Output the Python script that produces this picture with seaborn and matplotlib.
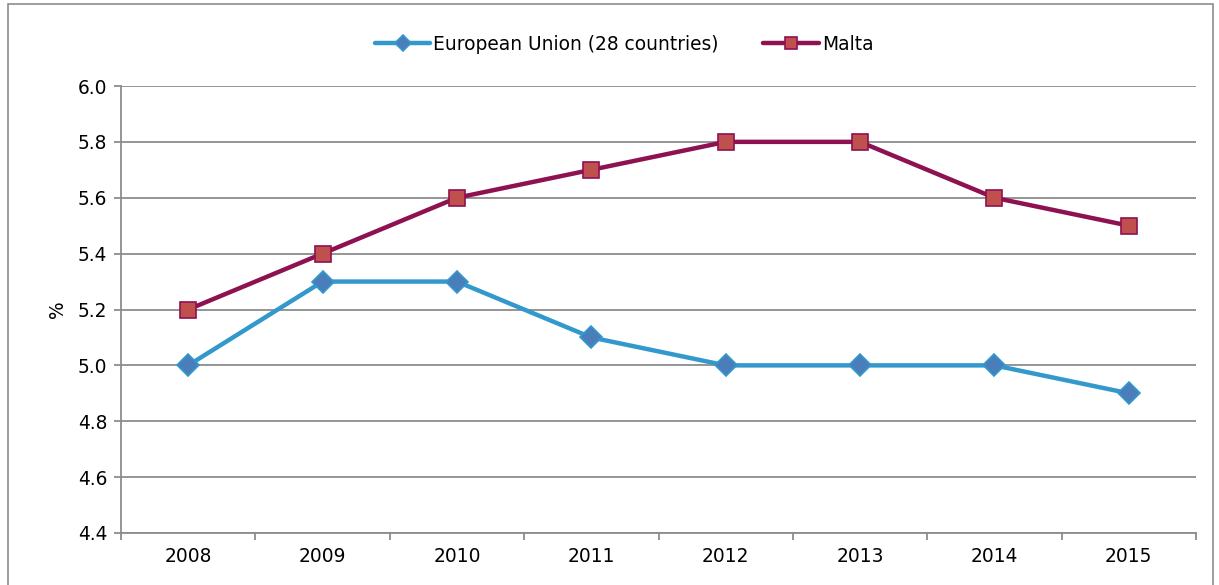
import matplotlib
matplotlib.use("Agg")
import matplotlib.pyplot as plt
from matplotlib.patches import Rectangle
import seaborn as sns
import pandas as pd

years = ["2008", "2009", "2010", "2011", "2012", "2013", "2014", "2015"]
eu_values = [5.0, 5.3, 5.3, 5.1, 5.0, 5.0, 5.0, 4.9]
malta_values = [5.2, 5.4, 5.6, 5.7, 5.8, 5.8, 5.6, 5.5]
series_names = ["European Union (28 countries)", "Malta"]
y_ticks = [4.4, 4.6, 4.8, 5.0, 5.2, 5.4, 5.6, 5.8, 6.0]

sns.set_theme(style="white")
plt.rcParams["font.family"] = ["DejaVu Sans"]
plt.rcParams["text.color"] = "black"
plt.rcParams["axes.labelcolor"] = "black"

df = pd.DataFrame({
    "pos": list(range(len(years))) * 2,
    "value": eu_values + malta_values,
    "series": [series_names[0]] * len(years) + [series_names[1]] * len(years),
})

fig = plt.figure(figsize=(12.19, 5.85), dpi=100)
ax = fig.add_axes([121 / 1219, 1 - 533 / 585, (1196 - 121) / 1219, (533 - 86) / 585])

grid_col = "#8c8c8c"
for y in y_ticks:
    ax.axhline(y, color=grid_col, lw=1.3, zorder=0)

styles = {
    series_names[0]: dict(color="#3399cc", marker="D", mfc="#4a7ebb", mec="#3399cc", ms=11),
    series_names[1]: dict(color="#8e1152", marker="s", mfc="#c0504d", mec="#8e1152", ms=12),
}
for name in series_names:
    st = styles[name]
    sub = df[df["series"] == name]
    sns.lineplot(data=sub, x="pos", y="value", ax=ax, color=st["color"], lw=3.2,
                 marker=st["marker"], markersize=st["ms"], markerfacecolor=st["mfc"],
                 markeredgecolor=st["mec"], markeredgewidth=1.2, label=name,
                 legend=False, zorder=3)

fs = 13.4
ax.set_xlim(-0.5, len(years) - 0.5)
ax.set_ylim(4.4, 6.0)
ax.set_yticks(y_ticks)
ax.set_yticklabels([f"{v:.1f}" for v in y_ticks])
ax.set_xticks(range(len(years)))
ax.set_xticklabels(years)
ax.set_xticks([i - 0.5 for i in range(len(years) + 1)], minor=True)
ax.tick_params(axis="x", which="major", length=0, labelsize=fs, pad=10, labelcolor="black")
ax.tick_params(axis="x", which="minor", length=5, width=1.3, color=grid_col, direction="out")
ax.tick_params(axis="y", which="major", length=5, width=1.3, color=grid_col, direction="out",
               labelsize=fs, pad=5, labelcolor="black")
ax.xaxis.set_ticks_position("bottom")
ax.yaxis.set_ticks_position("left")
for side in ["top", "right"]:
    ax.spines[side].set_visible(False)
for side in ["left", "bottom"]:
    ax.spines[side].set_color(grid_col)
    ax.spines[side].set_linewidth(1.3)
ax.set_xlabel("")
ax.set_ylabel("%", fontsize=fs, labelpad=8, color="black")

handles, labels = ax.get_legend_handles_labels()
fig.legend(handles, labels, loc="center", bbox_to_anchor=(0.512, 1 - 44 / 585), ncol=2,
           frameon=False, fontsize=fs, handlelength=3.0, columnspacing=2.4,
           handletextpad=0.15, markerscale=0.75)

fig.patches.append(Rectangle((8 / 1219, -0.05), (1213 - 8) / 1219, 1.05 - 4 / 585,
                             transform=fig.transFigure, fill=False, edgecolor="#8c8c8c",
                             lw=1.2, zorder=0))

fig.savefig("out.png", dpi=100, facecolor="white")
